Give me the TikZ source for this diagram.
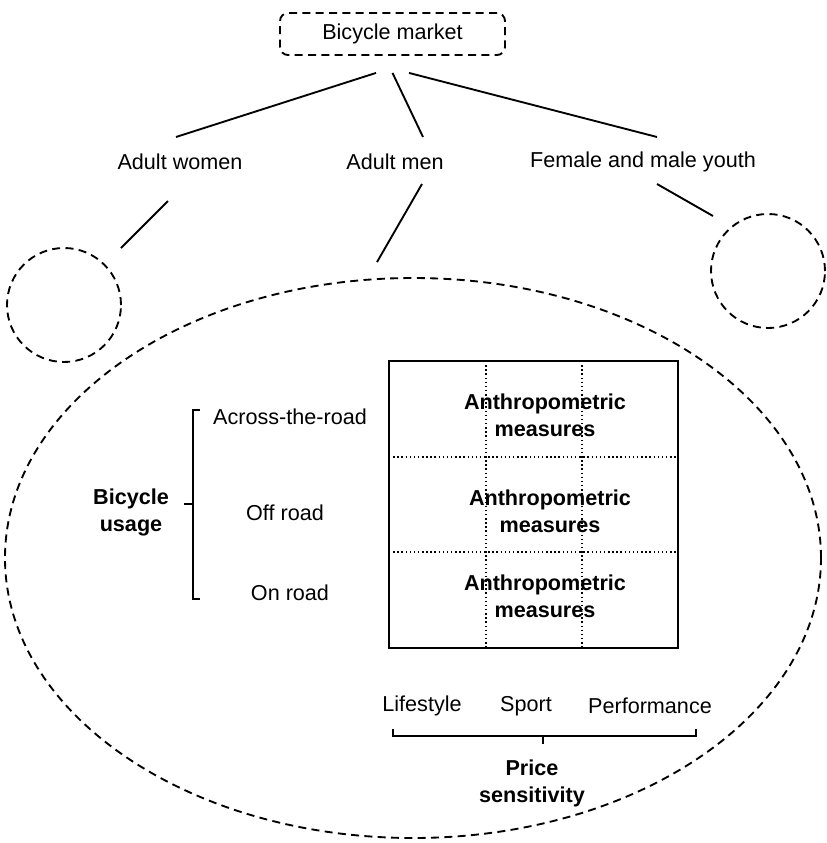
\documentclass[tikz,border=0pt]{standalone}
\usepackage{fontspec}
\setmainfont{Liberation Sans}
\usetikzlibrary{shapes,positioning,calc}

\begin{document}
\begin{tikzpicture}[x=0.75pt, y=-0.75pt, line width=1.4pt,
    font=\fontsize{16.2}{20.3}\selectfont,
    dashline/.style={dash pattern=on 6pt off 4pt},
    market/.style={rectangle, draw, dashline, rounded corners=6pt, minimum width=168.75pt, minimum height=31.5pt, inner sep=0pt},
    group/.style={inner sep=0pt, anchor=center},
    bubble/.style={circle, draw, dashline, minimum size=85.5pt, inner sep=0pt},
    bold/.style={font=\fontsize{16.2}{20.3}\selectfont\bfseries, align=center, inner sep=0pt},
    plain/.style={inner sep=0pt},
    grid/.style={dotted, line width=1.1pt},
    link/.style={draw}]

    \useasboundingbox (0,0) rectangle (826,843);

    % Top Level
    \node [market] (market) at (392.5,34) {Bicycle market};

    % Segments
    \node [group] (women) at (180,162) {Adult women};
    \node [group] (men) at (395,162) {Adult men};
    \node [group] (youth) at (643,162) {Female and male youth};

    % Segment bubbles
    \node [bubble] (lcirc) at (64,305) {};
    \node [bubble] (rcirc) at (768,271) {};
    \node [ellipse, draw, dashline, minimum width=612pt, minimum height=420pt, inner sep=0pt] (segment) at (413,558) {};

    % Usage / price matrix
    \draw (389,361) rectangle (678,648);
    \draw [grid] (486,361) -- (486,648);
    \draw [grid] (582,361) -- (582,648);
    \draw [grid] (389,457) -- (678,457);
    \draw [grid] (389,552) -- (678,552);
    \node [bold] (cellA) at (545,415) {Anthropometric\\measures};
    \node [bold] (cellB) at (550,511) {Anthropometric\\measures};
    \node [bold] (cellC) at (545,596) {Anthropometric\\measures};

    % Bicycle usage
    \node [plain] (across) at (290,417) {Across-the-road};
    \node [plain] (offroad) at (285,513) {Off road};
    \node [plain] (onroad) at (290,593) {On road};
    \draw (200,410) -- (193,410) -- (193,599) -- (200,599);
    \draw (193,504) -- (184,504);
    \node [bold] (usage) at (131,512) {Bicycle\\usage};

    % Price sensitivity
    \node [plain] (life) at (422,706) {Lifestyle};
    \node [plain] (sport) at (526,706) {Sport};
    \node [plain] (perf) at (650,706) {Performance};
    \draw (393,729) -- (393,736) -- (696,736) -- (696,729);
    \draw (543,736) -- (543,744);
    \node [bold] (price) at (532,783) {Price\\sensitivity};

    % Paths
    \path [link] ($(market.south)+(-16.5,17)$) -- ($(women)+(-4,-25)$);
    \path [link] ($(market.south)+(0,17)$) -- ($(men)+(28,-25)$);
    \path [link] ($(market.south)+(16.5,17)$) -- ($(youth)+(14,-25)$);
    \path [link] ($(women)+(-12,39)$) -- ($(lcirc)+(57,-57)$);
    \path [link] ($(men)+(27,22)$) -- ($(segment.north)+(-36,-15)$);
    \path [link] ($(youth)+(14,22)$) -- ($(rcirc)+(-55,-55)$);

\end{tikzpicture}
\end{document}
